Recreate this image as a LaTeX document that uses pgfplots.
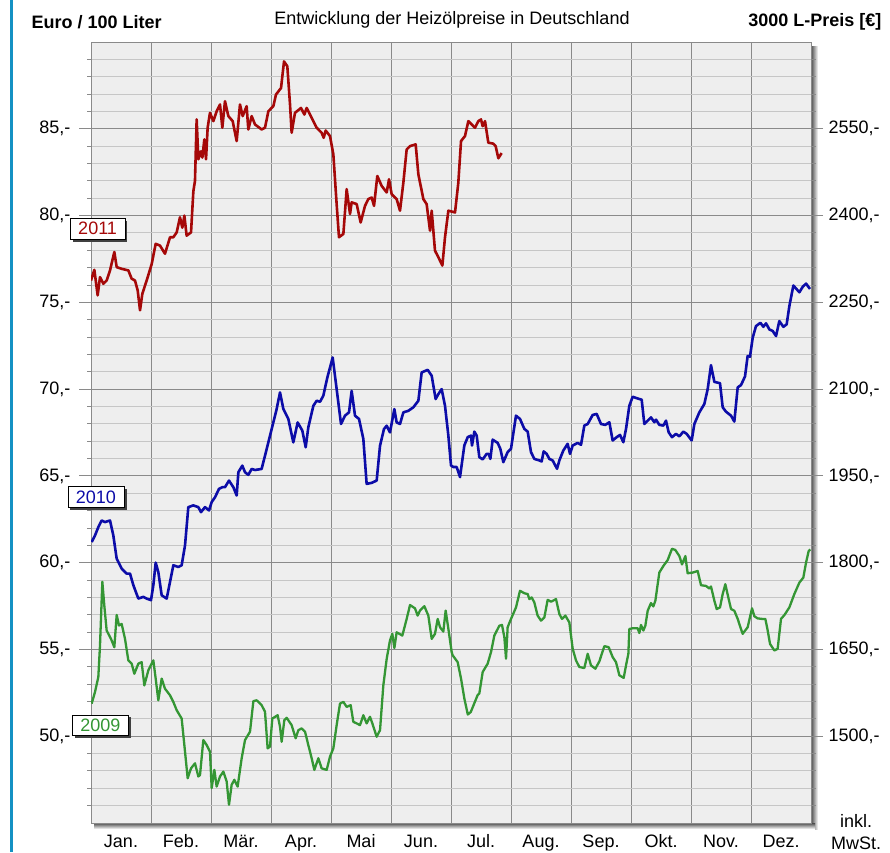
\documentclass[border=0pt]{standalone}
\usepackage{pgfplots}
\pgfplotsset{compat=1.18}
\usepackage{pgfplotstable}
\usepackage{fontspec}
\setmainfont{Liberation Sans}
\usetikzlibrary{shadows}
\definecolor{cred}{RGB}{165,8,8}
\definecolor{cblue}{RGB}{12,12,168}
\definecolor{cgreen}{RGB}{52,150,52}
\definecolor{bgc}{RGB}{238,238,238}
\definecolor{majg}{RGB}{138,138,138}
\definecolor{ming}{RGB}{198,198,198}
\definecolor{edge}{RGB}{20,145,195}

\pgfplotstableread{
x y
0 76.26
0.056 76.87
0.111 75.40
0.150 76.45
0.206 76.07
0.261 76.26
0.317 76.84
0.389 77.90
0.428 77.03
0.511 76.93
0.622 76.84
0.678 76.36
0.733 76.26
0.778 75.69
0.817 74.54
0.856 75.50
0.928 76.26
1.011 77.20
1.078 78.37
1.150 78.27
1.233 77.80
1.317 78.75
1.372 78.75
1.428 79.03
1.483 79.90
1.522 79.30
1.556 80.00
1.594 78.84
1.667 79.03
1.706 81.40
1.733 82.00
1.761 85.54
1.789 83.24
1.833 83.70
1.856 83.34
1.889 84.39
1.917 83.24
1.944 85.06
1.983 85.92
2.039 85.44
2.094 86.01
2.150 86.40
2.189 85.06
2.233 86.59
2.289 85.73
2.361 85.44
2.428 84.29
2.483 86.40
2.528 85.73
2.594 86.30
2.622 84.96
2.678 85.73
2.733 85.25
2.844 84.96
2.900 85.06
2.956 86.01
3.039 86.30
3.083 86.97
3.167 87.35
3.217 88.88
3.272 88.60
3.317 86.40
3.344 84.77
3.400 85.92
3.500 86.20
3.556 85.82
3.594 86.20
3.678 85.63
3.761 85.06
3.844 84.77
3.878 84.48
3.911 84.90
3.983 84.58
4.039 83.53
4.094 80.66
4.133 78.75
4.206 78.94
4.261 81.52
4.317 80.09
4.344 80.76
4.428 80.66
4.494 79.60
4.567 80.56
4.622 80.95
4.678 81.04
4.717 80.56
4.772 82.28
4.844 81.71
4.928 81.33
4.967 82.09
5.011 81.23
5.094 80.95
5.150 80.28
5.206 81.90
5.261 83.81
5.317 84.00
5.411 84.10
5.456 82.38
5.539 80.95
5.594 80.66
5.650 79.13
5.678 80.28
5.733 77.98
5.789 77.60
5.856 77.12
5.900 78.75
5.956 80.28
6.067 80.18
6.122 81.90
6.167 84.29
6.233 84.58
6.289 85.44
6.372 85.15
6.400 85.06
6.456 85.44
6.500 85.54
6.528 85.15
6.567 85.44
6.622 84.20
6.706 84.14
6.744 84.00
6.789 83.30
6.844 83.60
}\redtab

\pgfplotstableread{
x y
0.011 61.19
0.067 61.57
0.122 62.05
0.178 62.43
0.233 62.34
0.317 62.43
0.372 61.57
0.428 60.23
0.511 59.66
0.594 59.37
0.650 59.37
0.706 58.70
0.789 57.93
0.872 58.03
0.928 57.93
1.000 57.84
1.039 58.70
1.078 60.00
1.122 59.46
1.178 58.12
1.261 57.93
1.317 58.89
1.372 59.85
1.456 59.75
1.511 59.85
1.567 61.00
1.622 63.20
1.706 63.30
1.789 63.20
1.833 62.91
1.900 63.20
1.967 63.01
2.011 63.49
2.067 63.77
2.133 64.25
2.189 64.35
2.233 64.35
2.300 64.73
2.372 64.35
2.428 63.87
2.456 65.21
2.522 65.59
2.567 65.21
2.622 65.06
2.678 65.40
2.733 65.34
2.844 65.40
2.928 66.55
3.011 67.70
3.094 68.85
3.150 69.81
3.206 68.85
3.289 68.28
3.372 66.93
3.444 68.08
3.522 67.61
3.578 66.65
3.622 67.80
3.706 69.04
3.761 69.33
3.817 69.27
3.872 69.62
3.939 70.67
4.028 71.82
4.094 70.00
4.167 67.99
4.233 68.47
4.300 68.66
4.344 69.90
4.400 68.47
4.467 68.28
4.539 67.13
4.594 64.54
4.678 64.60
4.761 64.73
4.817 66.74
4.883 67.70
4.928 67.89
4.983 67.51
5.056 68.85
5.094 68.08
5.150 67.99
5.206 68.66
5.289 68.75
5.372 68.95
5.456 69.33
5.511 70.96
5.611 71.11
5.678 70.77
5.744 69.43
5.789 69.71
5.844 70.00
5.900 69.04
5.956 67.32
6.000 65.60
6.039 65.51
6.094 65.51
6.150 64.93
6.222 66.75
6.278 67.23
6.333 67.32
6.350 66.75
6.389 67.55
6.428 67.32
6.472 66.08
6.528 65.95
6.594 66.27
6.628 66.27
6.656 65.98
6.694 67.09
6.778 66.90
6.822 66.56
6.872 65.79
6.944 66.37
7.000 66.56
7.083 68.47
7.150 68.28
7.222 67.71
7.278 67.55
7.333 66.37
7.389 65.98
7.472 65.89
7.511 65.83
7.544 66.41
7.594 66.27
7.639 65.98
7.694 65.89
7.767 65.41
7.806 65.89
7.872 66.46
7.944 66.85
7.983 66.27
8.028 66.75
8.111 66.90
8.167 66.79
8.222 67.90
8.278 67.99
8.361 68.51
8.428 68.57
8.500 67.99
8.572 67.94
8.639 68.09
8.694 67.04
8.761 67.23
8.817 67.36
8.872 66.94
8.917 67.71
8.972 69.04
9.028 69.56
9.111 69.46
9.178 69.39
9.222 67.99
9.278 68.18
9.333 68.37
9.389 68.09
9.417 68.24
9.472 67.94
9.539 67.90
9.583 68.18
9.628 67.51
9.683 67.23
9.750 67.42
9.806 67.28
9.872 67.55
9.928 67.42
10.011 67.04
10.056 67.99
10.139 68.66
10.222 69.14
10.278 70.00
10.333 71.38
10.389 70.42
10.483 70.34
10.528 68.95
10.583 68.70
10.667 68.47
10.722 68.13
10.778 70.10
10.833 70.23
10.900 70.73
10.944 71.91
10.983 71.87
11.028 72.96
11.083 73.63
11.156 73.82
11.206 73.59
11.250 73.79
11.306 73.44
11.361 73.35
11.417 73.06
11.472 73.92
11.539 73.59
11.594 73.73
11.639 74.78
11.706 75.97
11.806 75.58
11.861 75.89
11.917 76.08
11.983 75.77
}\bluetab

\pgfplotstableread{
x y
0.011 51.88
0.067 52.55
0.122 53.41
0.150 55.23
0.189 58.90
0.222 57.52
0.261 56.09
0.333 55.61
0.389 55.13
0.428 56.99
0.467 56.38
0.511 56.47
0.567 55.61
0.622 54.37
0.678 54.18
0.722 53.60
0.789 54.18
0.844 54.27
0.889 52.93
0.956 53.80
1.039 54.37
1.078 53.32
1.122 52.07
1.178 53.32
1.233 52.74
1.317 52.36
1.372 51.98
1.428 51.50
1.511 51.02
1.556 49.49
1.611 47.58
1.667 48.15
1.733 48.44
1.789 47.68
1.817 47.77
1.872 49.78
1.928 49.49
1.983 49.11
2.011 47.01
2.056 48.06
2.094 47.10
2.150 47.68
2.206 47.96
2.261 47.39
2.300 46.05
2.344 47.20
2.389 47.49
2.444 47.10
2.511 48.73
2.567 49.78
2.650 50.26
2.706 52.02
2.761 52.07
2.844 51.79
2.900 51.41
2.944 49.30
2.983 49.40
3.022 51.02
3.111 51.21
3.150 50.54
3.178 49.68
3.222 50.93
3.261 51.06
3.344 50.64
3.411 49.88
3.456 50.35
3.511 50.45
3.567 50.26
3.622 49.49
3.678 48.73
3.722 48.06
3.789 48.73
3.844 48.15
3.928 48.06
3.983 48.82
4.039 49.30
4.094 50.64
4.150 51.88
4.206 51.98
4.261 51.69
4.328 51.79
4.372 50.83
4.428 50.74
4.483 50.64
4.539 51.21
4.594 50.74
4.650 51.12
4.689 50.74
4.761 49.97
4.817 50.35
4.872 52.93
4.928 54.46
4.983 55.52
5.022 55.90
5.056 55.08
5.094 55.99
5.189 55.80
5.261 56.76
5.317 57.56
5.400 57.37
5.444 56.95
5.483 57.24
5.556 57.49
5.622 56.95
5.678 55.61
5.733 55.90
5.778 56.76
5.817 56.28
5.872 56.03
5.911 57.24
5.956 56.19
6.011 54.85
6.028 54.66
6.111 54.27
6.167 53.32
6.222 52.18
6.280 51.25
6.330 51.40
6.444 52.37
6.472 52.46
6.528 53.70
6.611 54.18
6.667 54.85
6.722 55.80
6.806 56.37
6.850 56.41
6.889 55.71
6.917 54.47
6.944 56.28
7.000 56.76
7.083 57.42
7.150 58.38
7.222 58.24
7.278 58.19
7.306 57.90
7.344 58.00
7.389 57.71
7.444 56.95
7.500 56.66
7.556 56.85
7.611 57.86
7.667 57.75
7.750 57.90
7.806 57.04
7.850 56.76
7.906 56.95
7.972 56.56
8.028 55.04
8.083 54.37
8.139 53.99
8.222 53.93
8.278 54.75
8.333 54.08
8.406 53.89
8.472 54.31
8.556 55.19
8.628 55.13
8.694 54.56
8.750 54.27
8.806 53.51
8.878 53.36
8.917 54.08
8.956 54.75
8.972 56.18
9.028 56.22
9.111 56.22
9.139 55.95
9.167 56.41
9.206 56.09
9.239 56.37
9.278 57.23
9.333 57.67
9.372 57.48
9.406 57.81
9.472 59.43
9.539 59.81
9.611 60.15
9.683 60.80
9.739 60.73
9.806 60.38
9.850 59.90
9.906 60.38
9.944 59.39
10.028 59.43
10.111 59.52
10.167 58.70
10.250 58.66
10.306 58.51
10.333 58.63
10.389 57.81
10.428 57.33
10.483 57.42
10.528 58.19
10.572 58.76
10.628 57.90
10.667 57.33
10.722 57.23
10.778 56.76
10.833 56.18
10.861 55.90
10.944 56.28
11.017 57.37
11.056 56.91
11.111 56.79
11.183 56.76
11.239 56.76
11.278 56.09
11.317 55.32
11.389 54.94
11.444 55.04
11.500 56.76
11.556 56.98
11.639 57.42
11.722 58.19
11.806 58.85
11.872 59.14
11.917 60.00
11.961 60.67
11.990 60.76
}\greentab

\begin{document}
\begin{tikzpicture}[font=\fontsize{18}{21}\selectfont]
\useasboundingbox (-91pt,-29pt) rectangle (799pt,823pt);
% page edge line
\fill[edge] (-81pt,-29pt) rectangle (-78pt,823pt);
% shadows
\shade[left color=black!70, right color=white] (720pt,-6pt) rectangle (727pt,776pt);
\shade[top color=black!70, bottom color=white] (3pt,0pt) rectangle (724pt,-6pt);
\begin{axis}[
  at={(0pt,0pt)}, anchor=south west,
  scale only axis, width=720pt, height=781pt,
  xmin=0, xmax=12, ymin=45, ymax=90,
  axis background/.style={fill=bgc},
  axis line style={majg, line width=0.9pt},
  xtick={0,...,12}, xticklabels={}, xmajorticks=false,
  ytick={50,55,...,85},
  yticklabels={{50,-},{55,-},{60,-},{65,-},{70,-},{75,-},{80,-},{85,-}},
  minor ytick={46,47,48,49,51,52,53,54,56,57,58,59,61,62,63,64,66,67,68,69,71,72,73,74,76,77,78,79,81,82,83,84,86,87,88,89},
  ytick pos=left,
  tick align=outside,
  major tick length=12pt, minor tick length=4pt,
  tick style={majg, line width=0.9pt},
  grid=both,
  major grid style={majg, line width=0.9pt},
  minor grid style={ming, line width=0.9pt},
  yticklabel style={xshift=-5pt},
  clip mode=individual,
]
\addplot[cgreen, line width=2.3pt, line join=round] table[x=x,y=y]{\greentab};
\addplot[cblue, line width=2.6pt, line join=round] table[x=x,y=y]{\bluetab};
\addplot[cred, line width=2.6pt, line join=round] table[x=x,y=y]{\redtab};
\node[draw=black, fill=white, text=cred, inner xsep=8pt, inner ysep=4pt, line width=0.8pt,
  drop shadow={shadow xshift=2.5pt, shadow yshift=-2.5pt, fill=black!75, opacity=1}]
  at (axis cs:0.11,79.24) {2011};
\node[draw=black, fill=white, text=cblue, inner xsep=8pt, inner ysep=4pt, line width=0.8pt,
  drop shadow={shadow xshift=2.5pt, shadow yshift=-2.5pt, fill=black!75, opacity=1}]
  at (axis cs:0.083,63.78) {2010};
\node[draw=black, fill=white, text=cgreen, inner xsep=8pt, inner ysep=4pt, line width=0.8pt,
  drop shadow={shadow xshift=2.5pt, shadow yshift=-2.5pt, fill=black!75, opacity=1}]
  at (axis cs:0.158,50.63) {2009};
\end{axis}
\begin{axis}[
  at={(0pt,0pt)}, anchor=south west,
  scale only axis, width=720pt, height=781pt,
  xmin=0, xmax=12, ymin=45, ymax=90,
  axis x line=none, axis y line*=right,
  axis line style={majg, line width=0.9pt},
  ytick={50,55,...,85},
  yticklabels={{1500,-},{1650,-},{1800,-},{1950,-},{2100,-},{2250,-},{2400,-},{2550,-}},
  minor ytick={46,47,48,49,51,52,53,54,56,57,58,59,61,62,63,64,66,67,68,69,71,72,73,74,76,77,78,79,81,82,83,84,86,87,88,89},
  tick align=outside,
  major tick length=12pt, minor tick length=5pt,
  tick style={majg, line width=0.9pt},
  yticklabel style={xshift=2pt},
]
\end{axis}
\begin{axis}[
  at={(0pt,0pt)}, anchor=south west,
  scale only axis, width=720pt, height=781pt,
  xmin=0, xmax=12, ymin=45, ymax=90,
  axis y line=none, axis x line*=bottom,
  x axis line style={draw=none},
  major tick length=0pt,
  xtick={0.5,1.5,...,11.5},
  xticklabels={Jan.,Feb.,Mär.,Apr.,Mai,Jun.,Jul.,Aug.,Sep.,Okt.,Nov.,Dez.},
  xticklabel style={anchor=base, yshift=-24pt},
]
\end{axis}
% header texts
\node[anchor=west, font=\fontsize{18}{21}\selectfont\bfseries] at (-63pt,801pt) {Euro / 100 Liter};
\node[anchor=center] at (361pt,803pt) {Entwicklung der Heizölpreise in Deutschland};
\node[anchor=east, font=\fontsize{18}{21}\selectfont\bfseries] at (794pt,801pt) {3000 L-Preis [€]};
\node[anchor=base] at (765pt,-4pt) {inkl.};
\node[anchor=base] at (765pt,-26pt) {MwSt.};
\end{tikzpicture}
\end{document}
